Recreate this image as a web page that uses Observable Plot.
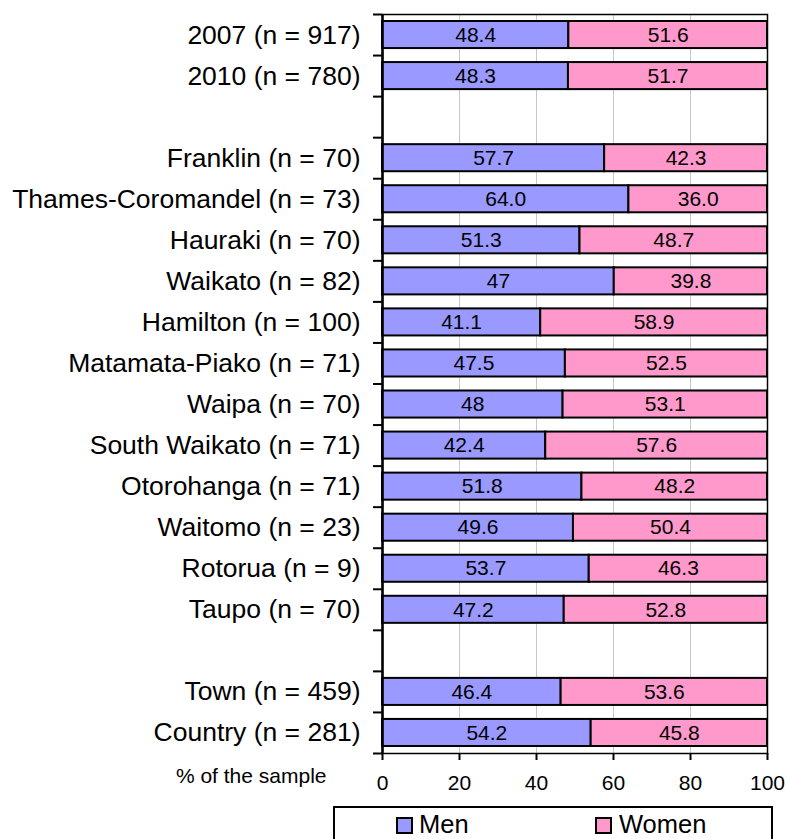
<!DOCTYPE html>
<html><head><meta charset="utf-8">
<script src="https://cdn.jsdelivr.net/npm/d3@7"></script>
<script src="https://cdn.jsdelivr.net/npm/@observablehq/plot@0.6"></script>
<style>
body{margin:0;background:#fff;font-family:"Liberation Sans",Arial,sans-serif;}
#wrap{position:relative;width:785px;height:839px;overflow:hidden;}
#legend{position:absolute;left:333px;top:806px;width:436px;height:40px;border:2px solid #000;border-bottom:none;}
.sw{position:absolute;top:9px;width:13px;height:13px;border:2px solid #000;}
.lt{position:absolute;top:2px;font-size:25.5px;line-height:28px;color:#000;}
</style></head><body><div id="wrap"><div id="chart"></div><div id="legend"></div></div>
<script>
const categories = ["2007 (n = 917)", "2010 (n = 780)", "", "Franklin (n = 70)", "Thames-Coromandel (n = 73)", "Hauraki (n = 70)", "Waikato (n = 82)", "Hamilton (n = 100)", "Matamata-Piako (n = 71)", "Waipa (n = 70)", "South Waikato (n = 71)", "Otorohanga (n = 71)", "Waitomo (n = 23)", "Rotorua (n = 9)", "Taupo (n = 70)", "", "Town (n = 459)", "Country (n = 281)"];
const menValues = [48.4, 48.3, null, 57.7, 64.0, 51.3, 60.2, 41.1, 47.5, 46.9, 42.4, 51.8, 49.6, 53.7, 47.2, null, 46.4, 54.2];
const menLabels = ["48.4", "48.3", "", "57.7", "64.0", "51.3", "47", "41.1", "47.5", "48", "42.4", "51.8", "49.6", "53.7", "47.2", "", "46.4", "54.2"];
const womenValues = [51.6, 51.7, null, 42.3, 36.0, 48.7, 39.8, 58.9, 52.5, 53.1, 57.6, 48.2, 50.4, 46.3, 52.8, null, 53.6, 45.8];
const womenLabels = ["51.6", "51.7", "", "42.3", "36.0", "48.7", "39.8", "58.9", "52.5", "53.1", "57.6", "48.2", "50.4", "46.3", "52.8", "", "53.6", "45.8"];
const seriesNames = ["Men", "Women"];
const seriesColors = ["#9999FF", "#FF99CC"];
const xTicks = [0, 20, 40, 60, 80, 100];

const bars = [];
categories.forEach((c, i) => {
  if (menValues[i] == null) return;
  bars.push({row: i, sex: "Men", x1: 0, x2: menValues[i], label: menLabels[i]});
  bars.push({row: i, sex: "Women", x1: menValues[i], x2: menValues[i] + womenValues[i], label: womenLabels[i]});
});
const labelRows = categories.map((c, i) => i).filter(i => categories[i] !== "");

const chart = Plot.plot({
  width: 785, height: 805,
  marginLeft: 382, marginRight: 18, marginTop: 14, marginBottom: 52,
  style: {fontFamily: "'Liberation Sans', Arial, sans-serif", color: "#000", background: "#fff"},
  x: {domain: [0, 100]},
  y: {domain: [0, categories.length], reverse: true},
  color: {domain: seriesNames, range: seriesColors},
  marks: [
    Plot.gridX([20, 40, 60, 80], {stroke: "#c8c8c8", strokeOpacity: 1}),
    Plot.rectX(bars, {x1: "x1", x2: "x2", y1: d => d.row, y2: d => d.row + 1, insetTop: 7, insetBottom: 7, fill: "sex", stroke: "#000", strokeWidth: 2}),
    Plot.text(bars, {x: d => (d.x1 + d.x2) / 2, y: d => d.row + 0.5, text: "label", fontSize: 21, fill: "#000"}),
    Plot.frame({stroke: "#000", strokeWidth: 1.5}),
    Plot.ruleX([0], {stroke: "#000", strokeWidth: 2.5}),
    Plot.axisY({ticks: d3.range(0, categories.length + 1), tickSize: 9, tickFormat: () => "", strokeWidth: 2, label: null}),
    Plot.axisY({ticks: labelRows.map(i => i + 0.5), tickSize: 0, tickPadding: 22, tickFormat: v => categories[Math.floor(v)], fontSize: 26.5, label: null}),
    Plot.axisX({ticks: xTicks, tickSize: 7, tickPadding: 15, fontSize: 21, strokeWidth: 2, label: null}),
    Plot.text(["% of the sample"], {frameAnchor: "bottom-left", textAnchor: "end", dx: -56, dy: 29, fontSize: 21, fill: "#000"})
  ]
});
document.getElementById("chart").appendChild(chart);

const legend = document.getElementById("legend");
const legendPos = [{sw: 61, tx: 84}, {sw: 260, tx: 284}];
seriesNames.forEach((name, i) => {
  const s = document.createElement("div");
  s.className = "sw"; s.style.left = legendPos[i].sw + "px"; s.style.background = seriesColors[i];
  const t = document.createElement("div");
  t.className = "lt"; t.style.left = legendPos[i].tx + "px"; t.textContent = name;
  legend.appendChild(s); legend.appendChild(t);
});
</script>
</body></html>
